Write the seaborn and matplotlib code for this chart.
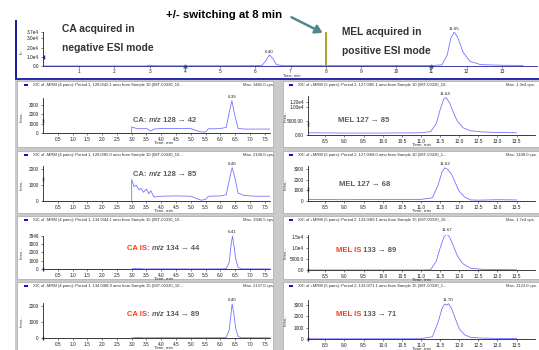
import matplotlib
matplotlib.use("Agg")
import matplotlib.pyplot as plt
from matplotlib.patches import Rectangle
from matplotlib.ticker import MultipleLocator
import seaborn as sns

W, H = 539, 350

# =========================
# DATA
# =========================

# total ion chromatogram (top strip)
tic_time = [0.0, 2.9, 3.0, 3.1, 3.3, 4.0, 5.0, 6.0, 6.2, 6.3, 6.4, 6.5, 6.6, 6.8, 7.9,
            8.0, 8.1, 11.0, 11.3, 11.45, 11.55, 11.65, 11.75, 11.9, 12.1, 12.4, 13.0, 13.6]
tic_inten = [0, 0, 900, 400, 200, 200, 200, 300, 900, 6000, 12000, 8000, 1500, 300, 300,
             0, 500, 500, 1200, 12000, 30000, 37000, 31000, 15000, 5000, 1500, 800, 600]
tic_peaks = [(6.40, 12000, "6.40"), (11.65, 37000, "11.65")]
tic_yticks = [0, 10000, 20000, 30000, 37000]
tic_ylabels = ["0.0", "1.0e4", "2.0e4", "3.0e4", "3.7e4"]
tic_xticks = [1, 2, 3, 4, 5, 6, 7, 8, 9, 10, 11, 12, 13]
switch_time = 8.0
cycle_marks = [4.0, 11.0]

# CA 128 -> 42
ca42_time = [3.0, 3.0, 3.2, 3.5, 3.65, 3.75, 4.0, 4.5, 5.0, 5.2, 5.35, 5.5, 5.6, 5.8,
             6.0, 6.2, 6.3, 6.39, 6.48, 6.6, 6.8, 7.2, 7.7]
ca42_inten = [0, 650, 450, 480, 200, 420, 480, 480, 480, 250, 120, 100, 460, 450,
              480, 600, 2200, 3465, 2000, 500, 420, 420, 420]

# MEL 127 -> 85
mel85_time = [8.05, 9.0, 10.0, 11.0, 11.25, 11.4, 11.5, 11.6, 11.66, 11.75, 11.85,
              11.95, 12.1, 12.3, 12.6, 13.0, 13.5]
mel85_inten = [800, 700, 700, 800, 1200, 4000, 9000, 13000, 13400, 11500, 8000,
               5000, 2600, 1500, 1100, 900, 800]

# CA 128 -> 85
ca85_time = [3.0, 3.0, 3.08, 3.15, 3.25, 3.32, 3.4, 3.5, 3.58, 3.65, 3.75, 4.0, 4.5,
             5.0, 5.2, 5.35, 5.5, 5.6, 6.0, 6.2, 6.3, 6.40, 6.5, 6.6, 6.8, 7.2, 7.7]
ca85_inten = [0, 1350, 900, 1000, 700, 800, 550, 750, 450, 650, 250, 300, 320,
              300, 150, 50, 100, 300, 320, 400, 1300, 2100, 1400, 500, 350, 300, 300]

# MEL 127 -> 68
mel68_time = [8.05, 9.0, 10.0, 11.0, 11.3, 11.45, 11.55, 11.62, 11.7, 11.8, 11.9,
              12.0, 12.15, 12.3, 12.5, 13.0, 13.5]
mel68_inten = [150, 120, 150, 150, 300, 1500, 2700, 3100, 2950, 2500, 1700,
               900, 350, 100, 80, 120, 100]

# CA IS 134 -> 44
cais44_time = [3.0, 3.1, 3.2, 3.3, 3.4, 4.0, 5.0, 6.0, 6.2, 6.3, 6.36, 6.41, 6.46,
               6.52, 6.6, 6.7, 7.7]
cais44_inten = [0, 60, 30, 60, 0, 20, 10, 20, 50, 800, 2800, 3946, 2800,
                1200, 200, 20, 10]

# MEL IS 133 -> 89
melis89_time = [8.05, 10.0, 11.0, 11.25, 11.4, 11.5, 11.6, 11.67, 11.75, 11.85,
                11.95, 12.1, 12.3, 12.6, 13.0, 13.5]
melis89_inten = [0, 0, 0, 100, 4000, 10000, 15000, 16500, 15000, 11000,
                 6500, 2800, 800, 300, 200, 100]

# CA IS 134 -> 89
cais89_time = [3.0, 3.2, 3.4, 4.0, 5.0, 6.0, 6.2, 6.3, 6.36, 6.40, 6.45, 6.52,
               6.6, 6.7, 7.7]
cais89_inten = [0, 40, 10, 20, 15, 20, 40, 500, 1500, 2137, 1600, 600,
                100, 20, 10]

# MEL IS 133 -> 71
melis71_time = [8.05, 10.0, 11.0, 11.3, 11.45, 11.55, 11.62, 11.68, 11.72, 11.8,
                11.9, 12.0, 12.15, 12.3, 12.6, 13.0, 13.5]
melis71_inten = [20, 20, 30, 200, 1500, 2700, 3100, 3000, 3120, 2700,
                 1800, 900, 350, 150, 80, 50, 40]

ca_xticks = [0.5, 1.0, 1.5, 2.0, 2.5, 3.0, 3.5, 4.0, 4.5, 5.0, 5.5, 6.0, 6.5, 7.0, 7.5]
mel_xticks = [8.5, 9.0, 9.5, 10.0, 10.5, 11.0, 11.5, 12.0, 12.5, 13.0, 13.5]

# level of the little cursor mark on each y axis
cursor_levels = [1300, 4000, 1400, 1100, 0, 0, 0, 0]

# =========================
# PANEL SETUP
# =========================

panels = [
    dict(t=ca42_time, y=ca42_inten, peak=(6.39, 3465, "6.39"),
         yticks=[0, 1000, 2000, 3000], ylabels=["0", "1000", "2000", "3000"],
         title="XIC of -MRM (4 pairs): Period 1, 128.0/42.1 amu from Sample 10 (08T-00330_10...",
         maxtxt="Max. 3465.0 cps.",
         label=[("CA: ", "g", "normal"), ("m/z", "g", "italic"), (" 128 \u2192 42", "g", "normal")]),
    dict(t=mel85_time, y=mel85_inten, peak=(11.64, 13400, "11.64"),
         yticks=[0, 5000, 10000, 12000], ylabels=["0.00", "5000.00", "1.00e4", "1.20e4"],
         title="XIC of +MRM (5 pairs): Period 2, 127.0/85.1 amu from Sample 10 (08T-00330_10...",
         maxtxt="Max. 1.3e4 cps.",
         label=[("MEL 127 \u2192 85", "g", "normal")]),
    dict(t=ca85_time, y=ca85_inten, peak=(6.40, 2100, "6.40"),
         yticks=[0, 1000, 2000], ylabels=["0", "1000", "2000"],
         title="XIC of -MRM (4 pairs): Period 1, 128.0/85.0 amu from Sample 10 (08T-00330_10...",
         maxtxt="Max. 2108.0 cps.",
         label=[("CA: ", "g", "normal"), ("m/z", "g", "italic"), (" 128 \u2192 85", "g", "normal")]),
    dict(t=mel68_time, y=mel68_inten, peak=(11.62, 3100, "11.62"),
         yticks=[0, 1000, 2000, 3000], ylabels=["0", "1000", "2000", "3000"],
         title="XIC of +MRM (5 pairs): Period 2, 127.0/68.0 amu from Sample 10 (08T-00330_1...",
         maxtxt="Max. 3108.0 cps.",
         label=[("MEL 127 \u2192 68", "g", "normal")]),
    dict(t=cais44_time, y=cais44_inten, peak=(6.41, 3946, "6.41"),
         yticks=[0, 1000, 2000, 3000, 3946], ylabels=["0", "1000", "2000", "3000", "3946"],
         title="XIC of -MRM (4 pairs): Period 1, 134.0/44.1 amu from Sample 15 (08T-00330_10...",
         maxtxt="Max. 3946.5 cps.",
         label=[("CA IS", "r", "normal"), (": ", "g", "normal"), ("m/z", "g", "italic"),
                (" 134 \u2192 44", "g", "normal")]),
    dict(t=melis89_time, y=melis89_inten, peak=(11.67, 16500, "11.67"),
         yticks=[0, 5000, 10000, 15000], ylabels=["0.0", "5000.0", "1.0e4", "1.5e4"],
         title="XIC of +MRM (5 pairs): Period 2, 133.0/89.1 amu from Sample 15 (08T-00330_10...",
         maxtxt="Max. 1.7e4 cps.",
         label=[("MEL IS", "r", "normal"), (" 133 \u2192 89", "g", "normal")]),
    dict(t=cais89_time, y=cais89_inten, peak=(6.40, 2137, "6.40"),
         yticks=[0, 1000, 2000], ylabels=["0", "1000", "2000"],
         title="XIC of -MRM (4 pairs): Period 1, 134.0/88.9 amu from Sample 15 (08T-00330_10...",
         maxtxt="Max. 2137.0 cps.",
         label=[("CA IS", "r", "normal"), (": ", "g", "normal"), ("m/z", "g", "italic"),
                (" 134 \u2192 89", "g", "normal")]),
    dict(t=melis71_time, y=melis71_inten, peak=(11.70, 3120, "11.70"),
         yticks=[0, 1000, 2000, 3000], ylabels=["0", "1000", "2000", "3000"],
         title="XIC of +MRM (5 pairs): Period 2, 133.0/71.1 amu from Sample 15 (08T-00330_1...",
         maxtxt="Max. 3123.0 cps.",
         label=[("MEL IS", "r", "normal"), (" 133 \u2192 71", "g", "normal")]),
]

# pixel layout: panel frames per row, axes boxes, ylim tops, label anchors
row_frames = [(81, 147), (151, 213), (216, 279), (282, 351)]
axes_boxes = [(98, 133), (96, 135), (166, 201), (166, 201),
              (236, 269), (235, 270), (303, 338), (300, 339)]
ylim_tops = [3750, 14000, 2200, 3270, 3946, 16000, 2200, 3450]
label_pos = [(133, 121), (338, 120), (133, 174), (339, 185),
             (127, 249), (336, 250), (127, 315), (336, 315)]

TRACE = "#7474ff"
NAVY = "#1c1c9c"
GREY_TXT = "#5c5c5c"
RED_TXT = "#ff3a10"
COLORS = {"g": GREY_TXT, "r": RED_TXT}

sns.set_theme(style="ticks")
plt.rcParams["font.family"] = ["Liberation Sans", "DejaVu Sans"]
plt.rcParams["xtick.major.size"] = 1.5
plt.rcParams["ytick.major.size"] = 1.5
plt.rcParams["xtick.minor.size"] = 0.8
plt.rcParams["xtick.major.pad"] = 1.2
plt.rcParams["ytick.major.pad"] = 1.5

fig = plt.figure(figsize=(W / 100, H / 100), dpi=100)
fig.patch.set_facecolor("white")


def fx(x):
    return x / W


def fy(y):
    return 1 - y / H


def px_axes(x0, y0, x1, y1):
    ax = fig.add_axes([fx(x0), fy(y1), (x1 - x0) / W, (y1 - y0) / H])
    ax.set_facecolor("none")
    return ax


def px_rect(x0, y0, x1, y1, **kw):
    fig.add_artist(Rectangle((fx(x0), fy(y1)), (x1 - x0) / W, (y1 - y0) / H,
                             transform=fig.transFigure, **kw))


def style_axes(ax):
    for side in ["top", "right"]:
        ax.spines[side].set_visible(False)
    for side in ["left", "bottom"]:
        ax.spines[side].set_linewidth(0.6)
        ax.spines[side].set_color("#202020")
    ax.tick_params(labelsize=3.4, width=0.4, colors="#202020")
    ax.tick_params(which="minor", width=0.3)
    ax.set_xlabel("")
    ax.set_ylabel("")


# =========================
# LOWER PANEL BACKGROUND
# =========================

px_rect(15, 79, 539, 351, facecolor="#cacaca", edgecolor="none", zorder=-5)
for (y0, y1) in row_frames:
    px_rect(17, y0, 273, y1, facecolor="white", edgecolor="#9a9a9a", lw=0.4, zorder=-4)
    px_rect(283, y0, 540, y1, facecolor="white", edgecolor="#9a9a9a", lw=0.4, zorder=-4)

# =========================
# TOP STRIP (TIC)
# =========================

px_rect(15, 20, 16.5, 79, facecolor=NAVY, edgecolor="none", zorder=-3)
px_rect(15, 77.5, 539, 79.5, facecolor="#2c2cb0", edgecolor="none", zorder=-3)

ax0 = px_axes(43, 32, 537, 66)
sns.lineplot(x=tic_time, y=tic_inten, ax=ax0, color=TRACE, lw=0.6, estimator=None, sort=False)
ax0.plot([tic_time[0], switch_time], [0, 0], color=NAVY, lw=0.8)
ax0.vlines(switch_time, 0, 37000, color="#a39a22", lw=1.3)
ax0.plot(cycle_marks, [0] * len(cycle_marks), ls="none", marker="^", ms=2.2, color="#2a7f86",
         clip_on=False)
ax0.plot([0], [10000], ls="none", marker="|", ms=3, mew=1, color=NAVY, clip_on=False)
for pt, pv, lab in tic_peaks:
    ax0.text(pt, pv + 1500, lab, fontsize=3.2, ha="center", va="bottom", color="#202020")
ax0.set_xlim(-0.03, 14.0)
ax0.set_ylim(0, 37000)
ax0.set_xticks(tic_xticks)
ax0.set_xticklabels([str(t) for t in tic_xticks])
ax0.set_yticks(tic_yticks)
ax0.set_yticklabels(tic_ylabels)
style_axes(ax0)
ax0.tick_params(axis="x", pad=0.8)
ax0.spines["bottom"].set_color(NAVY)
fig.text(fx(292), fy(75.5), "Time, min", fontsize=2.9, ha="center", va="center")
fig.text(fx(22), fy(52), "In", fontsize=3.2, rotation=90, ha="center", va="center")

fig.text(fx(166), fy(15), "+/- switching at 8 min", fontsize=8.2, fontweight="bold",
         ha="left", va="center", color="black")
fig.text(fx(62), fy(29), "CA acquired in", fontsize=7.4, fontweight="bold",
         ha="left", va="center", color="#333333")
fig.text(fx(62), fy(48), "negative ESI mode", fontsize=7.4, fontweight="bold",
         ha="left", va="center", color="#333333")
fig.text(fx(342), fy(32), "MEL acquired in", fontsize=7.4, fontweight="bold",
         ha="left", va="center", color="#333333")
fig.text(fx(342), fy(51), "positive ESI mode", fontsize=7.4, fontweight="bold",
         ha="left", va="center", color="#333333")
fig.add_artist(plt.Annotation("", xy=(fx(325), fy(34)), xytext=(fx(289), fy(16)),
                              xycoords="figure fraction", textcoords="figure fraction",
                              arrowprops=dict(arrowstyle="-|>,head_length=0.35,head_width=0.22",
                                              color="#4d8a8e", lw=1.8)))

# =========================
# XIC PANELS
# =========================

for i, p in enumerate(panels):
    col = i % 2
    row = i // 2
    fy0, fy1 = row_frames[row]
    ay0, ay1 = axes_boxes[i]
    if col == 0:
        ax = px_axes(43, ay0, 270, ay1)
        ax.set_xlim(0, 7.68)
        ax.set_xticks(ca_xticks)
        ax.set_xticklabels(["%.1f" % t for t in ca_xticks])
        sq_x, title_x, max_x, ylab_x, xlab_x = 24, 33, 243, 22, 163
    else:
        ax = px_axes(308, ay0, 535, ay1)
        ax.set_xlim(8.05, 13.98)
        ax.set_xticks(mel_xticks)
        ax.set_xticklabels(["%.1f" % t for t in mel_xticks])
        sq_x, title_x, max_x, ylab_x, xlab_x = 289, 298, 506, 286, 422
    sns.lineplot(x=p["t"], y=p["y"], ax=ax, color=TRACE, lw=0.6, estimator=None, sort=False)
    ax.set_ylim(0, ylim_tops[i])
    ax.set_yticks(p["yticks"])
    ax.set_yticklabels(p["ylabels"])
    ax.xaxis.set_minor_locator(MultipleLocator(0.1))
    style_axes(ax)
    ax.plot([ax.get_xlim()[0]], [cursor_levels[i]], ls="none", marker="|", ms=3, mew=1,
            color=NAVY, clip_on=False)
    pt, pv, lab = p["peak"]
    ax.annotate(lab, xy=(pt, pv), xytext=(0, 1.5), textcoords="offset points",
                fontsize=3.2, ha="center", va="bottom", color="#202020", annotation_clip=False)

    px_rect(sq_x, fy0 + 2.5, sq_x + 4, fy0 + 5, facecolor="#1010c8", edgecolor="none", zorder=-3)
    fig.text(fx(title_x), fy(fy0 + 4), p["title"], fontsize=3.0, ha="left", va="center",
             color="#303030")
    fig.text(fx(max_x), fy(fy0 + 4), p["maxtxt"], fontsize=3.0, ha="left", va="center",
             color="#303030")
    fig.text(fx(ylab_x), fy((ay0 + ay1) / 2), "Inten...", fontsize=3.0, rotation=90,
             ha="center", va="center", color="#303030")
    fig.text(fx(xlab_x), fy(ay1 + 10), "Time, min", fontsize=3.2, ha="center", va="center",
             color="#303030")

    # label with mixed colours, chained piece by piece
    lx, ly = label_pos[i]
    kw0 = dict(fontsize=5.5, fontweight="bold", va="center", ha="left")
    txt0, c0, st0 = p["label"][0]
    last = fig.text(fx(lx), fy(ly), txt0, color=COLORS[c0], fontstyle=st0, **kw0)
    for txt, c, st in p["label"][1:]:
        last = ax.annotate(txt, xy=(1, 0.5), xycoords=last, color=COLORS[c], fontstyle=st,
                           annotation_clip=False, **kw0)

fig.savefig("out.png", dpi=100, facecolor="white")
